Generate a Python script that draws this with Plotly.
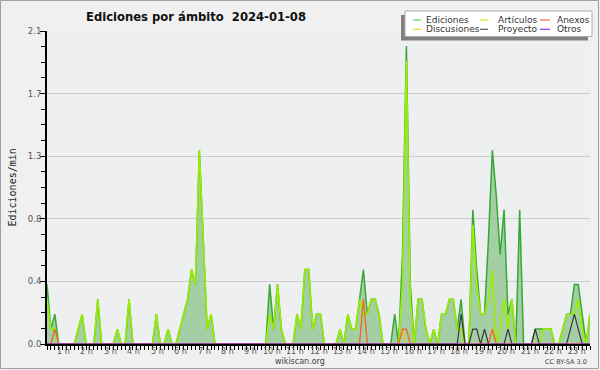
import plotly.graph_objects as go

# ---------------- data (10-minute bins, edits per minute) ----------------
# one row per hour (6 bins of 10 min); the day's data ends at bin 139
ediciones = [
    0.4, 0.1, 0.2, 0, 0, 0,
    0, 0, 0.1, 0.2, 0, 0,
    0, 0.3, 0, 0, 0, 0,
    0.1, 0, 0, 0.3, 0, 0,
    0, 0, 0, 0, 0.2, 0,
    0, 0.1, 0, 0, 0.1, 0.2,
    0.3, 0.5, 0.4, 1.3, 0.7, 0.1,
    0.2, 0, 0, 0, 0, 0,
    0, 0, 0, 0, 0, 0,
    0, 0, 0, 0.4, 0.1, 0.4,
    0.1, 0, 0, 0, 0.2, 0.1,
    0.5, 0.5, 0.1, 0.2, 0.2, 0,
    0, 0, 0, 0.1, 0, 0.2,
    0.1, 0.1, 0.3, 0.5, 0.2, 0.3,
    0.3, 0.2, 0, 0, 0, 0.2,
    0, 0.6, 2.0, 0.4, 0, 0.3,
    0.3, 0.1, 0, 0.1, 0, 0.2,
    0.2, 0.3, 0.3, 0.1, 0.3, 0,
    0, 0.9, 0.5, 0.2, 0.2, 0.7,
    1.3, 1.0, 0.6, 0.9, 0.2, 0.3,
    0, 0.9, 0, 0, 0, 0.1,
    0.1, 0.1, 0.1, 0.1, 0, 0,
    0.1, 0.2, 0.2, 0.4, 0.4, 0.2,
    0, 0.2,
]
articulos = [
    0.3, 0.1, 0.1, 0, 0, 0,
    0, 0, 0.1, 0.2, 0, 0,
    0, 0.3, 0, 0, 0, 0,
    0.1, 0, 0, 0.3, 0, 0,
    0, 0, 0, 0, 0.2, 0,
    0, 0.1, 0, 0, 0.1, 0.2,
    0.3, 0.5, 0.4, 1.3, 0.7, 0.1,
    0.2, 0, 0, 0, 0, 0,
    0, 0, 0, 0, 0, 0,
    0, 0, 0, 0.2, 0.1, 0.4,
    0.1, 0, 0, 0, 0.2, 0.1,
    0.5, 0.5, 0.1, 0.2, 0.2, 0,
    0, 0, 0, 0.1, 0, 0.2,
    0.1, 0.1, 0.3, 0.2, 0.2, 0.3,
    0.3, 0.2, 0, 0, 0, 0,
    0, 0.4, 1.9, 0.3, 0, 0.3,
    0.3, 0.1, 0, 0.1, 0, 0.2,
    0.2, 0.3, 0.3, 0.1, 0.1, 0,
    0, 0.8, 0.4, 0.2, 0.2, 0.3,
    0.5, 0, 0.1, 0.3, 0.1, 0.3,
    0, 0, 0, 0, 0, 0,
    0, 0.1, 0.1, 0.1, 0, 0,
    0.1, 0.2, 0.2, 0.2, 0.3, 0.1,
    0, 0.2,
]
anexos = [
    0, 0, 0.1, 0, 0, 0,
    0, 0, 0, 0, 0, 0,
    0, 0, 0, 0, 0, 0,
    0, 0, 0, 0, 0, 0,
    0, 0, 0, 0, 0, 0,
    0, 0, 0, 0, 0, 0,
    0, 0, 0, 0, 0, 0,
    0, 0, 0, 0, 0, 0,
    0, 0, 0, 0, 0, 0,
    0, 0, 0, 0, 0, 0,
    0, 0, 0, 0, 0, 0,
    0, 0, 0, 0, 0, 0,
    0, 0, 0, 0, 0, 0,
    0, 0, 0, 0.3, 0, 0,
    0, 0, 0, 0, 0, 0,
    0, 0.1, 0.1, 0, 0, 0,
    0, 0, 0, 0, 0, 0,
    0, 0, 0, 0, 0, 0,
    0, 0, 0, 0, 0, 0,
    0.1, 0, 0, 0, 0, 0,
    0, 0, 0, 0, 0, 0,
    0, 0, 0, 0, 0, 0,
    0, 0, 0, 0, 0, 0,
    0, 0,
]
discusiones = [
    0, 0, 0, 0, 0, 0,
    0, 0, 0, 0, 0, 0,
    0, 0, 0, 0, 0, 0,
    0, 0, 0, 0, 0, 0,
    0, 0, 0, 0, 0, 0,
    0, 0, 0, 0, 0, 0,
    0, 0, 0, 0, 0, 0,
    0, 0, 0, 0, 0, 0,
    0, 0, 0, 0, 0, 0,
    0, 0, 0, 0, 0, 0,
    0, 0, 0, 0, 0, 0,
    0, 0, 0, 0, 0, 0,
    0, 0, 0, 0, 0, 0,
    0, 0, 0, 0, 0, 0,
    0, 0, 0, 0, 0, 0,
    0, 0.1, 0, 0, 0, 0,
    0, 0, 0, 0, 0, 0,
    0, 0, 0, 0, 0, 0,
    0, 0, 0, 0, 0, 0,
    0, 0, 0, 0, 0, 0,
    0, 0, 0, 0, 0, 0,
    0, 0, 0, 0, 0, 0,
    0, 0, 0, 0, 0, 0,
    0, 0,
]
proyecto = [
    0, 0, 0, 0, 0, 0,
    0, 0, 0, 0, 0, 0,
    0, 0, 0, 0, 0, 0,
    0, 0, 0, 0, 0, 0,
    0, 0, 0, 0, 0, 0,
    0, 0, 0, 0, 0, 0,
    0, 0, 0, 0, 0, 0,
    0, 0, 0, 0, 0, 0,
    0, 0, 0, 0, 0, 0,
    0, 0, 0, 0, 0, 0,
    0, 0, 0, 0, 0, 0,
    0, 0, 0, 0, 0, 0,
    0, 0, 0, 0, 0, 0,
    0, 0, 0, 0, 0, 0,
    0, 0, 0, 0, 0, 0,
    0, 0, 0, 0, 0, 0,
    0, 0, 0, 0, 0, 0,
    0, 0, 0, 0, 0.2, 0,
    0, 0.1, 0.1, 0, 0.1, 0,
    0, 0, 0, 0, 0.1, 0,
    0, 0, 0, 0, 0, 0.1,
    0, 0, 0, 0, 0, 0,
    0, 0, 0.1, 0.2, 0.1, 0,
    0, 0,
]
otros = [0] * 140

hour_labels = ["%d h" % h for h in range(1, 24)]
hour_bins = [6 * h for h in range(1, 24)]

ytick_vals = [0, 0.42, 0.84, 1.26, 1.68, 2.1]
ytick_text = ["0.0", "0.4", "0.8", "1.3", "1.7", "2.1"]

legend_names = ["Ediciones", "Artículos", "Anexos", "Discusiones", "Proyecto", "Otros"]
legend_colors = ["#66cc66", "#ccee22", "#ff6633", "#ffcc33", "#555555", "#9933ff"]

bins = list(range(len(ediciones)))

# ---------------- geometry ----------------
FW, FH = 600, 370
L, R, T, B = 47, 590, 31, 344
W, H = R - L, B - T


def px2x(px):
    return (px - L) / W


def py2y(py):
    return (B - py) / H


fig = go.Figure()

fig.add_trace(go.Scatter(x=bins, y=ediciones, mode="lines", fill="tozeroy",
                         fillcolor="rgba(150,200,150,0.85)",
                         line=dict(color="#36a836", width=1.5), name="Ediciones"))
fig.add_trace(go.Scatter(x=bins, y=articulos, mode="lines",
                         line=dict(color="#99ee00", width=1.6), name="Artículos"))
fig.add_trace(go.Scatter(x=bins, y=discusiones, mode="lines",
                         line=dict(color="#ffc21a", width=1.3), name="Discusiones"))
fig.add_trace(go.Scatter(x=bins, y=anexos, mode="lines",
                         line=dict(color="#f26522", width=1.3), name="Anexos"))
fig.add_trace(go.Scatter(x=bins, y=proyecto, mode="lines",
                         line=dict(color="#3a3a3a", width=1.2), name="Proyecto"))
fig.add_trace(go.Scatter(x=bins, y=otros, mode="lines",
                         line=dict(color="#9933ff", width=1.2), name="Otros"))

shapes = []
annotations = []

# figure frame
shapes.append(dict(type="rect", xref="paper", yref="paper",
                   x0=px2x(0.5), x1=px2x(598.5), y0=py2y(368.5), y1=py2y(0.5),
                   line=dict(color="#a0a0a0", width=1), layer="below"))

# legend box with shadow
shapes.append(dict(type="rect", xref="paper", yref="paper",
                   x0=px2x(401), x1=px2x(588), y0=py2y(40.5), y1=py2y(15),
                   fillcolor="#808080", line=dict(width=0)))
shapes.append(dict(type="rect", xref="paper", yref="paper",
                   x0=px2x(405), x1=px2x(592), y0=py2y(36.5), y1=py2y(11),
                   fillcolor="#ffffff", line=dict(color="#aaaaaa", width=1)))
col_line = [(413, 421), (480, 488), (540, 550)]
col_text = [424, 496, 555]
row_y = [20, 29.3]
for k, (name, color) in enumerate(zip(legend_names, legend_colors)):
    r, c = divmod(k, 3)
    shapes.append(dict(type="line", xref="paper", yref="paper",
                       x0=px2x(col_line[c][0]), x1=px2x(col_line[c][1]),
                       y0=py2y(row_y[r]), y1=py2y(row_y[r]),
                       line=dict(color=color, width=1.2)))
    annotations.append(dict(text=name, xref="paper", yref="paper",
                            x=px2x(col_text[c]), y=py2y(row_y[r]),
                            xanchor="left", yanchor="middle", showarrow=False,
                            font=dict(family="DejaVu Sans", size=9, color="#333333")))

# title
annotations.append(dict(text="<b>Ediciones por ámbito  2024-01-08</b>", xref="paper", yref="paper",
                        x=px2x(84), y=py2y(17), xanchor="left", yanchor="middle", showarrow=False,
                        font=dict(family="DejaVu Sans", size=11.6, color="#111111")))
# y axis title
annotations.append(dict(text="Ediciones/min", xref="paper", yref="paper",
                        x=px2x(12), y=0.5, xanchor="center", yanchor="middle", showarrow=False,
                        textangle=-90,
                        font=dict(family="DejaVu Sans Mono", size=10, color="#222222")))
# hour labels (right aligned on the hour tick)
for hb, lab in zip(hour_bins, hour_labels):
    annotations.append(dict(text=lab, xref="x", yref="paper", x=hb, y=py2y(351.5),
                            xanchor="right", yanchor="middle", showarrow=False, xshift=1.5,
                            font=dict(family="DejaVu Sans", size=8, color="#555555")))
annotations.append(dict(text="wikiscan.org", xref="paper", yref="paper",
                        x=px2x(300), y=py2y(361), xanchor="center", yanchor="middle",
                        showarrow=False, font=dict(family="DejaVu Sans", size=8, color="#444444")))
annotations.append(dict(text="CC BY-SA 3.0", xref="paper", yref="paper",
                        x=px2x(589), y=py2y(362), xanchor="right", yanchor="middle",
                        showarrow=False, font=dict(family="DejaVu Sans", size=6.5, color="#444444")))

fig.update_layout(
    width=FW, height=FH,
    margin=dict(l=L, r=FW - R, t=T, b=FH - B, pad=0),
    paper_bgcolor="#f0f0f0", plot_bgcolor="#eeeff1",
    showlegend=False,
    shapes=shapes, annotations=annotations,
    xaxis=dict(range=[0, len(bins) - 1], showgrid=False, zeroline=False,
               showline=True, linecolor="#000000", linewidth=2,
               ticks="outside", ticklen=4, tickwidth=1, tickcolor="#000000",
               tickmode="linear", tick0=0, dtick=1, showticklabels=False),
    yaxis=dict(range=[0, 2.1], showgrid=True, gridcolor="#cccccc", gridwidth=1,
               zeroline=False, showline=True, linecolor="#000000", linewidth=2,
               tickmode="array", tickvals=ytick_vals, ticktext=ytick_text,
               ticks="outside", ticklen=5, tickwidth=1, tickcolor="#000000",
               ticklabelstandoff=-3,
               tickfont=dict(family="DejaVu Sans", size=8.5, color="#555555"),
               minor=dict(dtick=0.105, tick0=0, ticks="outside", ticklen=4,
                          tickcolor="#000000", showgrid=False)),
)

fig.write_html("out.html", config={"displayModeBar": False},
               post_script="document.body.style.margin='0';")
